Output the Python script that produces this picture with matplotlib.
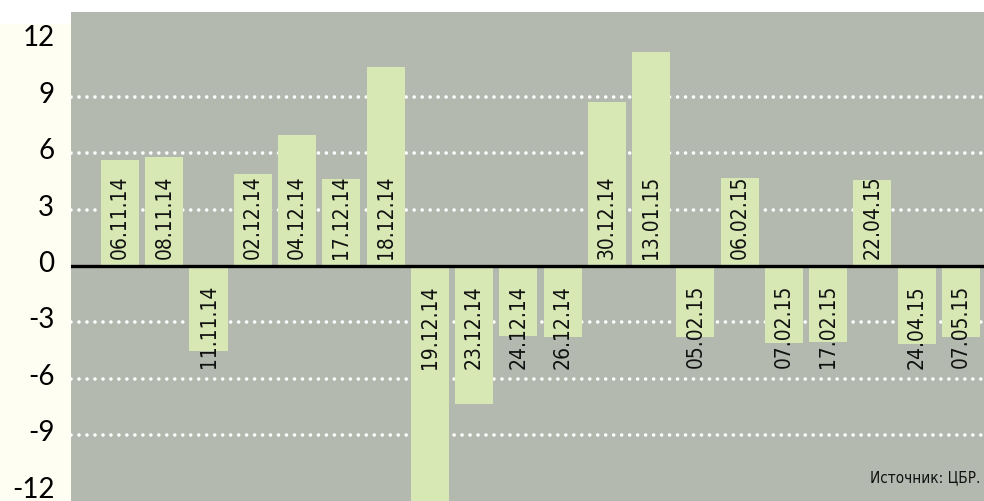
import numpy as np
import matplotlib
matplotlib.use('Agg')
import matplotlib.pyplot as plt
from matplotlib.patches import Rectangle
from matplotlib.transforms import ScaledTranslation

plt.rcParams['axes.unicode_minus'] = False

# data
dates = ['06.11.14', '08.11.14', '11.11.14', '02.12.14', '04.12.14', '17.12.14',
         '18.12.14', '19.12.14', '23.12.14', '24.12.14', '26.12.14', '30.12.14',
         '13.01.15', '05.02.15', '06.02.15', '07.02.15', '17.02.15', '22.04.15',
         '24.04.15', '07.05.15']
values = [5.64, 5.8, -4.54, 4.89, 6.95, 4.62,
          10.6, -14.0, -7.35, -3.72, -3.78, 8.74,
          11.4, -3.78, 4.67, -4.1, -4.05, 4.57,
          -4.14, -3.78]
yticks = [-12, -9, -6, -3, 0, 3, 6, 9, 12]
gridlevels = [-9, -6, -3, 3, 6, 9]
source = 'Источник: ЦБР.'

bg = '#b3b9ae'
bar_color = '#d8e8b4'
cream = '#fffef3'

W, H = 984, 502
fig = plt.figure(figsize=(W / 100, H / 100), dpi=100, facecolor='white')
fig.patches.append(Rectangle((0, 0), 71 / W, 477 / H, transform=fig.transFigure,
                             facecolor=cream, edgecolor='none', zorder=-1))

ax = fig.add_axes([71 / W, 0, 913 / W, 489 / H])
ax.set_facecolor(bg)
for s in ax.spines.values():
    s.set_visible(False)

x = np.arange(len(values))
ax.bar(x, values, width=0.86, color=bar_color, zorder=2)

for g in gridlevels:
    ax.axhline(g, color='white', lw=2.6, linestyle=(0, (0.01, 2.2)),
               dash_capstyle='round', zorder=1)
ax.axhline(0, color='black', lw=2.4, zorder=3)

for xi, d, v in zip(x, dates, values):
    if v >= 0:
        ax.annotate(d, (xi, 0), xytext=(0, 6), textcoords='offset points',
                    rotation=90, ha='center', va='bottom', fontsize=15,
                    fontstretch='condensed', color='#111111', zorder=4)
    else:
        ax.annotate(d, (xi, 0), xytext=(0, -13), textcoords='offset points',
                    rotation=90, ha='center', va='top', fontsize=15,
                    fontstretch='condensed', color='#111111', zorder=4)

ax.set_xlim(-1.107, 19.52)
ax.set_ylim(-12.5, 13.51)
ax.set_xticks([])
ax.set_yticks(yticks)
ax.set_yticklabels([str(t) for t in yticks], fontsize=20, family='Lato',
                   color='black')
ax.tick_params(axis='y', length=0, pad=12)
shift = ScaledTranslation(0, 4 / 72, fig.dpi_scale_trans)
for lab in ax.get_yticklabels():
    lab.set_transform(lab.get_transform() + shift)

ax.text(0.996, 0.05, source, transform=ax.transAxes, ha='right', va='center',
        fontsize=11, fontstretch='condensed', color='#111111', zorder=4)

fig.savefig('out.png', dpi=100, facecolor=fig.get_facecolor())
